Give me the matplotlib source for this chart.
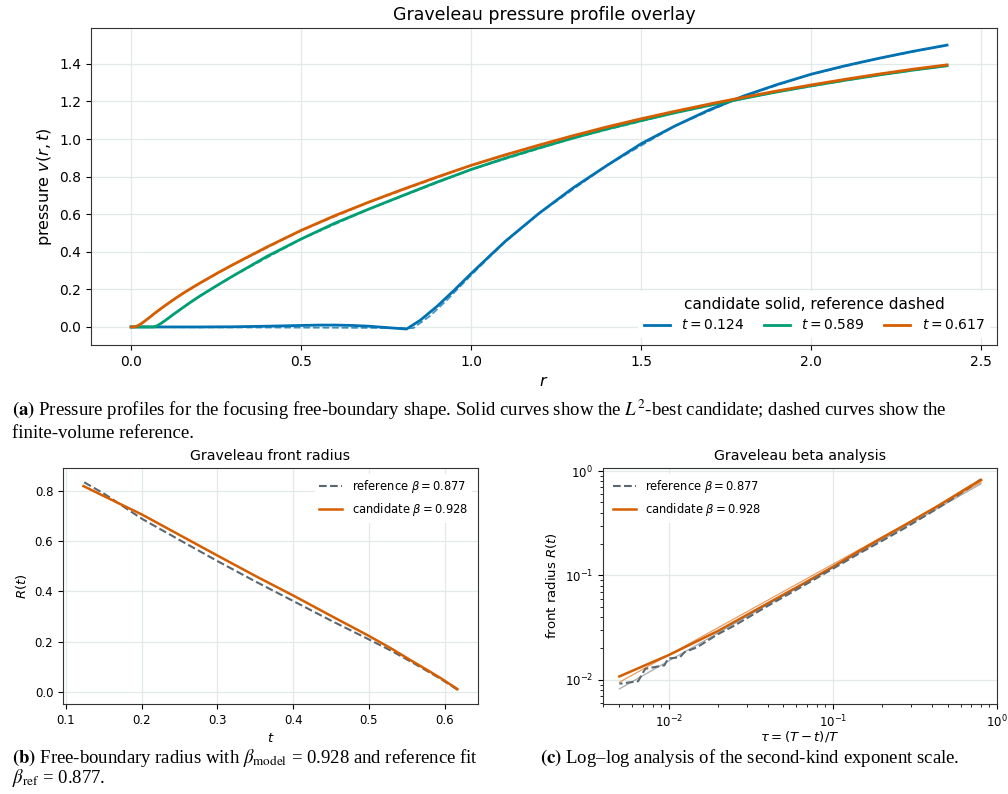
import numpy as np
import matplotlib
matplotlib.use("Agg")
import matplotlib.pyplot as plt

# colours
BLUE, GREEN, ORANGE = "#0072B2", "#009E73", "#D55E00"
SLATE = "#5B6770"

# ---- top panel: pressure profiles v(r, t) ----
times = [0.124, 0.589, 0.617]

r_blue = [0, 0.1, 0.2, 0.3, 0.4, 0.5, 0.55, 0.6, 0.65, 0.7, 0.75, 0.81, 0.85, 0.9,
          0.95, 1.0, 1.05, 1.1, 1.2, 1.3, 1.4, 1.5, 1.6, 1.7, 1.8, 1.9, 2.0, 2.1,
          2.2, 2.3, 2.4]
v_blue = [0, 0, 0, 0.001, 0.004, 0.008, 0.010, 0.010, 0.008, 0.004, -0.003, -0.011,
          0.035, 0.11, 0.195, 0.284, 0.37, 0.455, 0.605, 0.74, 0.86, 0.975, 1.07,
          1.155, 1.228, 1.29, 1.345, 1.39, 1.43, 1.467, 1.50]
r_blue_ref = [0, 0.2, 0.4, 0.6, 0.7, 0.8, 0.83, 0.88, 0.93, 0.97, 1.0, 1.05, 1.1,
              1.2, 1.4, 1.6, 1.8, 2.0, 2.2, 2.4]
v_blue_ref = [0, -0.002, -0.003, -0.004, -0.005, -0.006, -0.006, 0.06, 0.145, 0.22,
              0.275, 0.365, 0.452, 0.605, 0.86, 1.07, 1.228, 1.345, 1.43, 1.50]

r_green = [0, 0.067, 0.077, 0.087, 0.1, 0.125, 0.15, 0.175, 0.2, 0.25, 0.3, 0.4,
           0.5, 0.6, 0.7, 0.8, 0.9, 1.0, 1.1, 1.2, 1.3, 1.4, 1.5, 1.6, 1.7, 1.8,
           1.9, 2.0, 2.1, 2.2, 2.3, 2.4]
v_green = [0, 0, 0.007, 0.018, 0.034, 0.068, 0.100, 0.132, 0.162, 0.218, 0.272,
           0.376, 0.468, 0.553, 0.628, 0.70, 0.771, 0.838, 0.898, 0.953, 1.005,
           1.054, 1.098, 1.14, 1.179, 1.216, 1.251, 1.283, 1.313, 1.341, 1.367, 1.39]
r_green_ref = [0, 0.07, 0.087, 0.1, 0.15, 0.2, 0.3, 0.5, 0.7, 1.0, 1.3, 1.6, 1.9,
               2.2, 2.4]
v_green_ref = [0, 0, 0.017, 0.033, 0.099, 0.161, 0.271, 0.467, 0.627, 0.838, 1.005,
               1.14, 1.251, 1.341, 1.39]

r_orange = [0, 0.01, 0.02, 0.03, 0.04, 0.05, 0.075, 0.1, 0.125, 0.15, 0.175, 0.2,
            0.25, 0.3, 0.4, 0.5, 0.6, 0.7, 0.8, 0.9, 1.0, 1.1, 1.2, 1.3, 1.4, 1.5,
            1.6, 1.7, 1.8, 1.9, 2.0, 2.1, 2.2, 2.3, 2.4]
v_orange = [0, 0, 0.007, 0.018, 0.031, 0.045, 0.081, 0.114, 0.146, 0.176, 0.204,
            0.231, 0.283, 0.332, 0.426, 0.514, 0.593, 0.665, 0.733, 0.798, 0.86,
            0.916, 0.968, 1.018, 1.065, 1.108, 1.148, 1.186, 1.222, 1.256, 1.288,
            1.318, 1.346, 1.372, 1.395]
r_orange_ref = [0, 0.01, 0.03, 0.05, 0.1, 0.15, 0.2, 0.3, 0.5, 0.7, 1.0, 1.3, 1.6,
                1.9, 2.2, 2.4]
v_orange_ref = [0, 0, 0.017, 0.044, 0.113, 0.175, 0.23, 0.331, 0.513, 0.664, 0.86,
                1.018, 1.148, 1.256, 1.346, 1.395]

# ---- bottom panels: front radius R(t) ----
T_blow = 0.62
beta_model, beta_ref = 0.928, 0.877

t_cand = [0.123, 0.15, 0.2, 0.25, 0.3, 0.35, 0.4, 0.45, 0.5, 0.53, 0.558, 0.5788,
          0.5952, 0.6076, 0.6138, 0.6157, 0.6169]
R_cand = [0.82, 0.78, 0.707, 0.625, 0.543, 0.462, 0.384, 0.303, 0.223, 0.172, 0.121,
          0.084, 0.054, 0.0295, 0.0173, 0.0135, 0.0108]

t_ref = [0.124, 0.15, 0.2, 0.25, 0.3, 0.35, 0.4, 0.45, 0.5, 0.53, 0.558, 0.5788,
         0.5952, 0.6045, 0.6076, 0.6108, 0.61225, 0.61275, 0.61386, 0.61417,
         0.61554, 0.61597, 0.6169]
R_ref = [0.835, 0.79, 0.69, 0.605, 0.521, 0.44, 0.362, 0.284, 0.209, 0.163, 0.116,
         0.080, 0.051, 0.033, 0.0275, 0.0205, 0.0185, 0.0165, 0.016, 0.0138, 0.0128,
         0.0097, 0.0092]

# straight power-law guides on the log-log panel (end points)
tau_fit = [0.005, 0.8]
R_fit_cand = [0.0095, 0.78]
R_fit_ref = [0.0082, 0.755]

plt.rcParams["axes.edgecolor"] = "#333333"
plt.rcParams["grid.color"] = "#e3e8e8"
plt.rcParams["grid.linewidth"] = 0.9

fig = plt.figure(figsize=(10.08, 7.94), dpi=100)

# top panel
ax = fig.add_axes([0.0903, 0.5655, 0.8988, 0.3992])
ax.grid(True)
ax.set_axisbelow(True)
curves = [(r_blue, v_blue, r_blue_ref, v_blue_ref, BLUE),
          (r_green, v_green, r_green_ref, v_green_ref, GREEN),
          (r_orange, v_orange, r_orange_ref, v_orange_ref, ORANGE)]
for (rc, vc, rr, vr, col), tt in zip(curves, times):
    ax.plot(rc, vc, color=col, lw=2.0, label=f"$t = {tt:.3f}$")
    ax.plot(rr, vr, color=col, lw=1.3, ls="--", alpha=0.75)
ax.set_xlim(-0.118, 2.547)
ax.set_ylim(-0.096, 1.591)
ax.set_title("Graveleau pressure profile overlay", fontsize=12.5)
ax.set_xlabel("$r$", fontsize=11.5)
ax.set_ylabel("pressure $v(r, t)$", fontsize=11.5)
ax.tick_params(labelsize=10)
ax.legend(loc="lower right", ncol=3, title="candidate solid, reference dashed",
          fontsize=10, title_fontsize=11, frameon=True, framealpha=1,
          edgecolor="none", columnspacing=1.4, handlelength=1.9)

# bottom-left panel
ax1 = fig.add_axes([0.0625, 0.1134, 0.4117, 0.2972])
ax1.grid(True)
ax1.set_axisbelow(True)
ax1.plot(t_ref, R_ref, color=SLATE, lw=1.5, ls="--", label=rf"reference $\beta = {beta_ref}$")
ax1.plot(t_cand, R_cand, color=ORANGE, lw=1.8, label=rf"candidate $\beta = {beta_model}$")
ax1.set_xlim(0.096, 0.644)
ax1.set_ylim(-0.048, 0.892)
ax1.set_title("Graveleau front radius", fontsize=10.2)
ax1.set_xlabel("$t$", fontsize=9.5)
ax1.set_ylabel("$R(t)$", fontsize=9.5)
ax1.tick_params(labelsize=8.5)
ax1.legend(loc="upper right", fontsize=8.3, frameon=True, framealpha=1, edgecolor="none")

# bottom-right panel (log-log)
tau_cand = (T_blow - np.array(t_cand)) / T_blow
tau_ref = (T_blow - np.array(t_ref)) / T_blow
ax2 = fig.add_axes([0.598, 0.1134, 0.391, 0.2972])
ax2.grid(True)
ax2.set_axisbelow(True)
ax2.loglog(tau_ref, R_ref, color=SLATE, lw=1.5, ls="--", label=rf"reference $\beta = {beta_ref}$")
ax2.loglog(tau_cand, R_cand, color=ORANGE, lw=1.8, label=rf"candidate $\beta = {beta_model}$")
ax2.loglog(tau_fit, R_fit_ref, color=SLATE, lw=0.9, alpha=0.55)
ax2.loglog(tau_fit, R_fit_cand, color=ORANGE, lw=0.9, alpha=0.6)
ax2.set_xlim(10 ** -2.402, 1.0)
ax2.set_ylim(10 ** -2.23, 10 ** 0.029)
ax2.set_title("Graveleau beta analysis", fontsize=10.2)
ax2.set_xlabel(r"$\tau = (T - t)/T$", fontsize=9.5, labelpad=-1)
ax2.set_ylabel("front radius $R(t)$", fontsize=9.5)
ax2.tick_params(labelsize=8.5)
ax2.legend(loc="upper left", fontsize=8.3, frameon=True, framealpha=1, edgecolor="none")

# captions
cap = dict(fontsize=13.5, family="Liberation Serif", math_fontfamily="stix", va="baseline")
fig.text(12 / 1008, 1 - 416 / 794,
         r"$\mathbf{(a)}$ Pressure profiles for the focusing free-boundary shape. Solid curves show the $L^2$-best candidate; dashed curves show the",
         **cap)
fig.text(12 / 1008, 1 - 438 / 794, "finite-volume reference.", **cap)
fig.text(12 / 1008, 1 - 763 / 794,
         r"$\mathbf{(b)}$ Free-boundary radius with $\beta_{\mathrm{model}}$ = 0.928 and reference fit",
         **cap)
fig.text(12 / 1008, 1 - 783 / 794, r"$\beta_{\mathrm{ref}}$ = 0.877.", **cap)
fig.text(540 / 1008, 1 - 763 / 794,
         r"$\mathbf{(c)}$ Log–log analysis of the second-kind exponent scale.", **cap)

fig.savefig("out.png", dpi=100)
